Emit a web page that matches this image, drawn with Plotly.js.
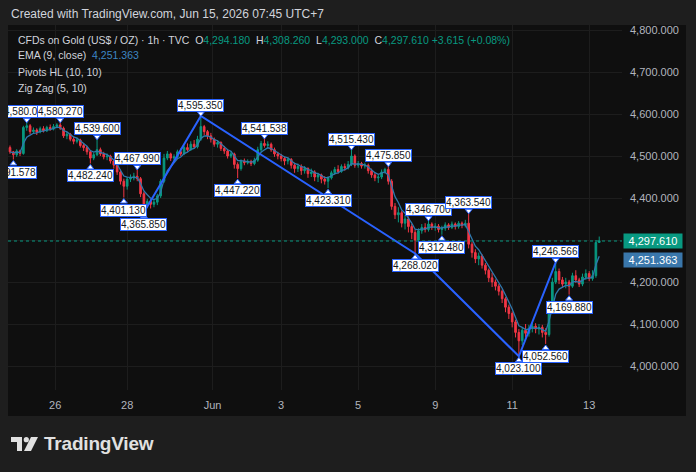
<!DOCTYPE html>
<html><head><meta charset="utf-8">
<script src="https://cdn.plot.ly/plotly-3.0.1.min.js"></script>
<style>
html,body{margin:0;padding:0;background:#1e1e1e;overflow:hidden}
#wrap{position:relative;width:696px;height:472px}
#chart{position:absolute;left:0;top:0;width:696px;height:472px}
#clip{position:absolute;left:0;top:20px;width:8px;height:420px;background:#1e1e1e}
#logo{position:absolute;left:11px;top:433px;height:22px;display:flex;align-items:center;color:#e1e1e1}
#logo span{font-family:"Liberation Sans",Arial,sans-serif;font-weight:bold;font-size:19px;margin-left:6px;letter-spacing:-0.2px}
</style></head>
<body><div id="wrap"><div id="chart"></div><div id="clip"></div>
<div id="logo"><svg width="27" height="14" viewBox="0 0 27 14"><rect x="0" y="0" width="11" height="5" fill="#e1e1e1"/><rect x="6" y="0" width="5" height="14" fill="#e1e1e1"/><circle cx="15.3" cy="2.7" r="2.6" fill="#e1e1e1"/><polygon points="20,0 27,0 20,14 13,14" fill="#e1e1e1"/></svg><span>TradingView</span></div>
</div>
<script>
// ---- data (2-hour bars) ----
const open = [
4520,4510,4503,4512,4506,4568,4572,4558,4562,4557,
4565,4560,4568,4564,4570,4574,4566,4548,4552,4540,
4535,4538,4525,4520,4510,4495,4503,4515,4505,4498,
4500,4488,4478,4462,4440,4428,4445,4448,4452,4446,
4410,4385,4392,4385,4390,4405,4440,4495,4505,4495,
4498,4510,4505,4520,4515,4528,4522,4540,4570,4558,
4548,4540,4528,4532,4518,4512,4500,4505,4480,4470,
4488,4484,4487,4482,4490,4515,4530,4525,4528,4515,
4505,4500,4494,4488,4492,4478,4470,4475,4465,4470,
4458,4462,4450,4455,4445,4440,4448,4460,4468,4463,
4475,4472,4480,4500,4478,4482,4476,4478,4465,4455,
4448,4450,4462,4468,4440,4380,4360,4365,4340,4350,
4332,4318,4300,4322,4330,4325,4338,4330,4333,4325,
4328,4336,4330,4338,4332,4340,4335,4340,4290,4270,
4255,4262,4240,4228,4210,4200,4190,4178,4160,4140,
4125,4105,4080,4060,4085,4078,4090,4095,4088,4092,
4080,4075,4150,4200,4225,4205,4195,4200,4190,4215,
4205,4195,4212,4220,4208,4215,4294.18];
const high = [
4525,4512,4516,4515,4572,4580.07,4576,4568,4566,4570,
4571,4572,4575,4576,4578,4580.27,4570,4558,4555,4546,
4544,4541,4530,4524,4514,4508,4539.6,4520,4510,4506,
4503,4492,4483,4468,4446,4450,4456,4460,4467.99,4450,
4415,4398,4397,4396,4410,4445,4505,4512,4508,4504,
4515,4518,4525,4530,4535,4538,4548,4595.35,4574,4562,
4555,4544,4538,4535,4524,4516,4512,4508,4485,4492,
4494,4492,4491,4496,4522,4536,4541.538,4535,4532,4520,
4510,4505,4498,4497,4495,4484,4482,4480,4476,4473,
4470,4466,4460,4458,4452,4452,4465,4474,4478,4480,
4482,4488,4515.43,4504,4488,4486,4484,4482,4470,4460,
4456,4468,4472,4475.85,4445,4388,4378,4370,4360,4356,
4338,4325,4328,4338,4340,4346.7,4342,4340,4338,4334,
4342,4340,4344,4342,4345,4344,4348,4363.54,4295,4278,
4270,4266,4245,4232,4222,4206,4195,4182,4164,4146,
4130,4110,4088,4092,4100,4098,4104,4102,4100,4098,
4090,4156,4210,4246.566,4232,4212,4210,4205,4222,4228,
4210,4220,4230,4226,4228,4300,4308.26];
const low = [
4505,4491.578,4498,4500,4503,4560,4552,4553,4550,4554,
4556,4557,4560,4561,4566,4562,4543,4540,4535,4528,
4530,4520,4512,4503,4482.24,4490,4500,4500,4492,4490,
4482,4470,4455,4432,4401.13,4420,4438,4442,4440,4402,
4365.85,4376,4375,4378,4383,4400,4436,4490,4488,4488,
4494,4500,4502,4510,4512,4518,4518,4536,4550,4540,
4532,4522,4520,4512,4505,4494,4495,4470,4447.22,4465,
4478,4480,4476,4478,4486,4510,4520,4518,4510,4498,
4492,4487,4478,4480,4470,4460,4462,4455,4458,4448,
4450,4440,4438,4435,4432,4423.31,4444,4455,4458,4460,
4465,4468,4476,4472,4472,4470,4470,4458,4448,4440,
4436,4445,4458,4432,4372,4350,4342,4330,4325,4318,
4302,4268.02,4296,4315,4318,4320,4324,4322,4318,4312.48,
4322,4324,4326,4325,4327,4328,4330,4280,4258,4245,
4240,4232,4218,4200,4188,4180,4168,4150,4128,4112,
4092,4068,4023.1,4050,4068,4070,4080,4078,4075,4068,
4052.56,4070,4145,4195,4195,4186,4185,4169.88,4186,4198,
4188,4190,4205,4202,4203,4210,4293];
const close = [
4510,4503,4512,4506,4568,4572,4558,4562,4557,4565,
4560,4568,4564,4570,4574,4566,4548,4552,4540,4535,
4538,4525,4520,4510,4495,4503,4515,4505,4498,4500,
4488,4478,4462,4440,4428,4445,4448,4452,4446,4410,
4385,4392,4385,4390,4405,4440,4495,4505,4495,4498,
4510,4505,4520,4515,4528,4522,4540,4570,4558,4548,
4540,4528,4532,4518,4512,4500,4505,4480,4470,4488,
4484,4487,4482,4490,4515,4530,4525,4528,4515,4505,
4500,4494,4488,4492,4478,4470,4475,4465,4470,4458,
4462,4450,4455,4445,4440,4448,4460,4468,4463,4475,
4472,4480,4500,4478,4482,4476,4478,4465,4455,4448,
4450,4462,4468,4440,4380,4360,4365,4340,4350,4332,
4318,4300,4322,4330,4325,4338,4330,4333,4325,4328,
4336,4330,4338,4332,4340,4335,4340,4290,4270,4255,
4262,4240,4228,4210,4200,4190,4178,4160,4140,4125,
4105,4080,4060,4085,4078,4090,4095,4088,4092,4080,
4075,4150,4200,4225,4205,4195,4200,4190,4215,4205,
4195,4212,4220,4208,4215,4294,4297.61];

const pivotHighIdx = [5,15,26,38,57,76,102,113,125,137,163];
const pivotLowIdx  = [1,24,34,40,68,95,121,129,152,160,167];
const zigzagIdx = [40,57,121,152,163];
const zigzagIsHigh = [false,true,false,false,true];

const dayTickHour = [27,70,121,162,208,254,300,346];
const dayTickText = ['26','28','Jun','3','5','9','11','13'];
const priceTicks = [4000,4100,4200,4300,4400,4500,4600,4700,4800];

const emaPeriod = 9;
const emaLast = 4251.363;
const legendO = 4294.180, legendH = 4308.260, legendL = 4293.000, legendC = 4297.610;
const legendChg = '+3.615 (+0.08%)';

// ---- geometry ----
const HOURS_PER_BAR = 2;
const PL = 8, PR = 622, PT = 25, PB = 390;
const pw = PR - PL, ph = PB - PT;
const yRange = [3942.86, 4811.9];
const xRange = [-1.195, 365.6];
const upp = (yRange[1] - yRange[0]) / ph;
const px2x = p => (p - PL) / pw;
const py2y = p => (PB - p) / ph;

const xh = open.map((_, i) => i * HOURS_PER_BAR);

// EMA(9) on hourly closes, expressed per 2h bar
const a = 1 - Math.pow(1 - 2 / (emaPeriod + 1), HOURS_PER_BAR);
const ema = [];
close.forEach((c, i) => ema.push(i === 0 ? c : ema[i - 1] + a * (c - ema[i - 1])));

const fmt = v => v.toLocaleString('en-US', {minimumFractionDigits: 3, maximumFractionDigits: 3});
const FONT = 'Liberation Sans, Arial, sans-serif';
const GREEN = '#089981', RED = '#f23645', ZZ = '#2962ff', EMAC = '#2f78ad';

const traces = [
  {type: 'candlestick', x: xh, open, high, low, close,
   increasing: {line: {color: GREEN, width: 1}, fillcolor: GREEN},
   decreasing: {line: {color: RED, width: 1}, fillcolor: RED},
   whiskerwidth: 0, hoverinfo: 'skip', showlegend: false},
  {type: 'scatter', mode: 'lines', x: xh, y: ema, line: {color: EMAC, width: 1.3}, hoverinfo: 'skip'},
  {type: 'scatter', mode: 'lines', x: zigzagIdx.map(i => xh[i]),
   y: zigzagIdx.map((i, k) => zigzagIsHigh[k] ? high[i] : low[i]),
   line: {color: ZZ, width: 2}, hoverinfo: 'skip'},
  {type: 'scatter', mode: 'markers', x: pivotHighIdx.map(i => xh[i]),
   y: pivotHighIdx.map(i => high[i] + 2.5 * upp),
   marker: {symbol: 'triangle-down', size: 6, color: '#ffffff', line: {color: ZZ, width: 1}}, hoverinfo: 'skip'},
  {type: 'scatter', mode: 'markers', x: pivotLowIdx.map(i => xh[i]),
   y: pivotLowIdx.map(i => low[i] - 4 * upp),
   marker: {symbol: 'triangle-up', size: 6, color: '#ffffff', line: {color: ZZ, width: 1}}, hoverinfo: 'skip'}
];

const ann = [];
const labelStyle = {showarrow: false, font: {family: FONT, size: 10, color: '#131722'},
  bgcolor: '#ffffff', bordercolor: ZZ, borderwidth: 1, borderpad: 0, height: 11,
  xref: 'x', yref: 'y'};
const pivots = pivotHighIdx.map(i => ({i, hi: true})).concat(pivotLowIdx.map(i => ({i, hi: false})))
  .sort((p, q) => p.i - q.i);
pivots.forEach(p => {
  const v = p.hi ? high[p.i] : low[p.i];
  ann.push(Object.assign({}, labelStyle, {x: xh[p.i], y: v, text: fmt(v),
    yanchor: p.hi ? 'bottom' : 'top', yshift: p.hi ? 4 : -6}));
});

// header & legend
const txt = {showarrow: false, xref: 'paper', yref: 'paper', xanchor: 'left', yanchor: 'middle',
  font: {family: FONT, size: 10.5, color: '#d1d4dc'}};
const g = s => '<span style="color:' + GREEN + '">' + s + '</span>';
ann.push(Object.assign({}, txt, {x: px2x(9), y: py2y(14), text: 'Created with TradingView.com, Jun 15, 2026 07:45 UTC+7', font: {family: FONT, size: 12, color: '#d1d4dc'}}));
ann.push(Object.assign({}, txt, {x: px2x(16), y: py2y(39.5),
  text: 'CFDs on Gold (US$ / OZ) · 1h · TVC  O' + g(fmt(legendO)) + '  H' + g(fmt(legendH)) +
        '  L' + g(fmt(legendL)) + '  C' + g(fmt(legendC)) + ' ' + g(legendChg)}));
ann.push(Object.assign({}, txt, {x: px2x(16), y: py2y(55),
  text: 'EMA (9, close)  <span style="color:#3d86c4">' + fmt(emaLast) + '</span>'}));
ann.push(Object.assign({}, txt, {x: px2x(16), y: py2y(71.5), text: 'Pivots HL (10, 10)'}));
ann.push(Object.assign({}, txt, {x: px2x(16), y: py2y(88), text: 'Zig Zag (5, 10)'}));

// price-scale labels
const lastClose = close[close.length - 1];
[[lastClose, GREEN], [emaLast, '#3a77ab']].forEach(([v, c]) => {
  ann.push({showarrow: false, xref: 'paper', yref: 'y', x: 1, xanchor: 'left', xshift: 1, y: v,
    yanchor: 'middle', text: fmt(v), bgcolor: c, borderpad: 1, width: 56, height: 12,
    font: {family: FONT, size: 11, color: '#ffffff'}});
});

const layout = {
  width: 696, height: 472,
  margin: {l: PL, r: 696 - PR, t: PT, b: 472 - PB, pad: 0},
  paper_bgcolor: '#1e1e1e', plot_bgcolor: '#0f0f0f',
  showlegend: false, hovermode: false, dragmode: false,
  xaxis: {range: xRange, tickvals: dayTickHour, ticktext: dayTickText,
    showgrid: true, gridcolor: '#1d1d1d', gridwidth: 1, zeroline: false, showline: false,
    ticks: '', ticklabelstandoff: 7, tickfont: {family: FONT, size: 11, color: '#b2b5be'},
    rangeslider: {visible: false}, fixedrange: true},
  yaxis: {range: yRange, side: 'right', tickvals: priceTicks, tickformat: ',.3f',
    showgrid: true, gridcolor: '#1d1d1d', gridwidth: 1, zeroline: false, showline: false,
    ticks: '', ticklabelstandoff: 7, tickfont: {family: FONT, size: 11, color: '#b2b5be'}, fixedrange: true},
  shapes: [
    {type: 'rect', xref: 'paper', yref: 'paper', x0: 0, x1: px2x(686), y0: py2y(416), y1: 1,
     fillcolor: '#0f0f0f', line: {width: 0}, layer: 'below'},
    {type: 'line', xref: 'paper', yref: 'y', x0: 0, x1: 1, y0: lastClose, y1: lastClose,
     line: {color: GREEN, width: 1, dash: 'dot'}}
  ],
  annotations: ann
};

Plotly.newPlot('chart', traces, layout, {staticPlot: true, displayModeBar: false});
</script>
</body></html>
